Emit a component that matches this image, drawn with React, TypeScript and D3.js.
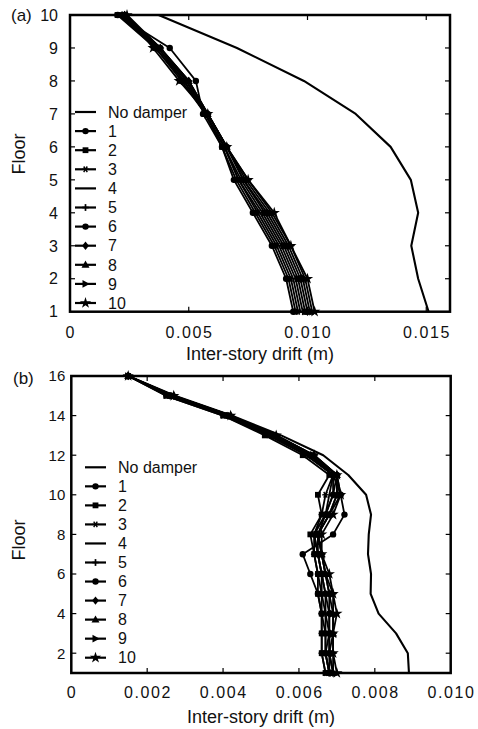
import React from 'react';
import * as d3 from 'd3';

const seriesNames = ['No damper', '1', '2', '3', '4', '5', '6', '7', '8', '9', '10'];
const markerTypes = ['none', 'circle', 'square', 'asterisk', 'none', 'plus', 'circle', 'diamond', 'triangle', 'triRight', 'star'];

// Panel (a): 10-storey building
const floorsA = [1, 2, 3, 4, 5, 6, 7, 8, 9, 10];
const noDamperA = [0.0151, 0.01466, 0.01437, 0.01466, 0.01435, 0.0135, 0.01203, 0.00985, 0.00703, 0.00373];
const dampersA = [
  [0.0094, 0.0091, 0.0085, 0.0077, 0.0069, 0.0064, 0.0056, 0.0053, 0.0042, 0.0020],
  [0.0095, 0.0092, 0.0086, 0.0078, 0.0070, 0.0064, 0.0057, 0.0047, 0.0036, 0.0020],
  [0.0096, 0.0093, 0.0087, 0.0079, 0.0071, 0.0065, 0.0057, 0.0048, 0.0036, 0.0021],
  [0.0097, 0.0094, 0.0088, 0.0080, 0.0071, 0.0065, 0.0057, 0.0048, 0.0037, 0.0021],
  [0.0098, 0.0095, 0.0089, 0.0081, 0.0072, 0.0065, 0.0057, 0.0049, 0.0037, 0.0022],
  [0.0099, 0.0096, 0.0090, 0.0082, 0.0073, 0.0066, 0.0058, 0.0049, 0.0038, 0.0022],
  [0.0100, 0.0097, 0.0091, 0.0083, 0.0073, 0.0066, 0.0058, 0.0050, 0.0038, 0.0023],
  [0.0101, 0.0098, 0.0092, 0.0084, 0.0074, 0.0066, 0.0058, 0.0050, 0.0038, 0.0023],
  [0.0102, 0.0099, 0.0093, 0.0085, 0.0075, 0.0066, 0.0058, 0.0050, 0.0038, 0.0024],
  [0.0103, 0.0100, 0.0093, 0.0086, 0.0075, 0.0066, 0.0058, 0.0046, 0.0035, 0.0024],
];
const xTicksA = [0, 0.005, 0.010, 0.015];
const yTicksA = [1, 2, 3, 4, 5, 6, 7, 8, 9, 10];

// Panel (b): 16-storey building
const floorsB = [1, 2, 3, 4, 5, 6, 7, 8, 9, 10, 11, 12, 13, 14, 15, 16];
const noDamperB = [0.0089, 0.00887, 0.00856, 0.0081, 0.00789, 0.0079, 0.00782, 0.00784, 0.0079, 0.00777, 0.0073, 0.00664, 0.00553, 0.00422, 0.00273, 0.0015];
const dampersB = [
  [0.0068, 0.0067, 0.0067, 0.0066, 0.0065, 0.0063, 0.0061, 0.0069, 0.0072, 0.0071, 0.0069, 0.0063, 0.0053, 0.0041, 0.0026, 0.0015],
  [0.0067, 0.0066, 0.0066, 0.0066, 0.0065, 0.0065, 0.0064, 0.0063, 0.0066, 0.0065, 0.0068, 0.0061, 0.0051, 0.0040, 0.0025, 0.0015],
  [0.0067, 0.0066, 0.0066, 0.0066, 0.0066, 0.0065, 0.0064, 0.0064, 0.0066, 0.0067, 0.0069, 0.0062, 0.0052, 0.0040, 0.0025, 0.0015],
  [0.0068, 0.0067, 0.0067, 0.0067, 0.0066, 0.0066, 0.0065, 0.0064, 0.0067, 0.0068, 0.0069, 0.0062, 0.0052, 0.0041, 0.0026, 0.0015],
  [0.0068, 0.0067, 0.0068, 0.0067, 0.0067, 0.0066, 0.0065, 0.0064, 0.0067, 0.0069, 0.0069, 0.0063, 0.0053, 0.0041, 0.0026, 0.0015],
  [0.0068, 0.0068, 0.0068, 0.0068, 0.0067, 0.0066, 0.0065, 0.0065, 0.0067, 0.0069, 0.0070, 0.0063, 0.0053, 0.0041, 0.0026, 0.0015],
  [0.0069, 0.0068, 0.0068, 0.0068, 0.0068, 0.0067, 0.0066, 0.0065, 0.0068, 0.0070, 0.0070, 0.0063, 0.0053, 0.0042, 0.0027, 0.0015],
  [0.0069, 0.0068, 0.0069, 0.0069, 0.0068, 0.0067, 0.0066, 0.0065, 0.0068, 0.0070, 0.0070, 0.0064, 0.0054, 0.0042, 0.0027, 0.0015],
  [0.0069, 0.0069, 0.0069, 0.0069, 0.0069, 0.0067, 0.0066, 0.0065, 0.0068, 0.0071, 0.0070, 0.0064, 0.0054, 0.0042, 0.0027, 0.0015],
  [0.0070, 0.0069, 0.0069, 0.0070, 0.0069, 0.0068, 0.0066, 0.0066, 0.0069, 0.0071, 0.0070, 0.0064, 0.0054, 0.0042, 0.0027, 0.0015],
];
const xTicksB = [0, 0.002, 0.004, 0.006, 0.008, 0.010];
const yTicksB = [2, 4, 6, 8, 10, 12, 14, 16];

const FONT = 'Liberation Sans, Arial, Helvetica, sans-serif';

function Marker({ type, x, y }: { type: string; x: number; y: number }) {
  const t = `translate(${x},${y})`;
  switch (type) {
    case 'circle':
      return <circle cx={x} cy={y} r={3.2} fill="#000" />;
    case 'square':
      return <rect x={x - 2.9} y={y - 2.9} width={5.8} height={5.8} fill="#000" />;
    case 'asterisk':
      return (
        <g transform={t} stroke="#000" strokeWidth={1.4}>
          <line x1={-3.2} y1={0} x2={3.2} y2={0} />
          <line x1={-1.8} y1={-2.8} x2={1.8} y2={2.8} />
          <line x1={-1.8} y1={2.8} x2={1.8} y2={-2.8} />
        </g>
      );
    case 'plus':
      return (
        <g transform={t} stroke="#000" strokeWidth={1.7}>
          <line x1={-3.2} y1={0} x2={3.2} y2={0} />
          <line x1={0} y1={-3.4} x2={0} y2={3.4} />
        </g>
      );
    case 'diamond':
      return <path transform={t} d="M0,-4.2L3.4,0L0,4.2L-3.4,0Z" fill="#000" />;
    case 'triangle':
      return <path transform={t} d="M0,-4.2L4,3L-4,3Z" fill="#000" />;
    case 'triRight':
      return <path transform={t} d="M4.2,0L-3,-3.8L-3,3.8Z" fill="#000" />;
    case 'star':
      return <path transform={t} d={d3.symbol(d3.symbolStar, 40)() || ''} fill="#000" />;
    default:
      return null;
  }
}

type PanelProps = {
  left: number; right: number; top: number; bottom: number;
  xMax: number; yMin: number; yMax: number;
  xTicks: number[]; yTicks: number[];
  floors: number[]; noDamper: number[]; dampers: number[][];
  yTickFont: number; yTickGap: number;
  legendX: number; legendY: number; legendStep: number;
  tag: string; tagX: number; tagY: number;
  floorLabelY: number; xLabelY: number; xTickY: number;
};

function Panel(p: PanelProps) {
  const x = d3.scaleLinear().domain([0, p.xMax]).range([p.left, p.right]);
  const y = d3.scaleLinear().domain([p.yMin, p.yMax]).range([p.bottom, p.top]);
  const line = d3.line<[number, number]>().x((d) => x(d[0])).y((d) => y(d[1]));
  const pts = (vals: number[]) => vals.map((v, i) => [v, p.floors[i]] as [number, number]);
  const tickLen = 5;
  const fmt = (v: number) => (v === 0 ? '0' : d3.format('.3f')(v));
  const ls = 1.6;
  return (
    <g fontFamily={FONT}>
      <path d={line(pts(p.noDamper)) || ''} fill="none" stroke="#000" strokeWidth={2.1} strokeLinejoin="round" />
      {p.dampers.map((s, k) => (
        <g key={k}>
          <path d={line(pts(s)) || ''} fill="none" stroke="#000" strokeWidth={1.8} strokeLinejoin="round" />
          {pts(s).map((d, j) => (
            <Marker key={j} type={markerTypes[k + 1]} x={x(d[0])} y={y(d[1])} />
          ))}
        </g>
      ))}
      <g stroke="#000" strokeWidth={1.2}>
        {p.xTicks.filter((v) => v > 0 && v < p.xMax).map((v) => (
          <g key={'xt' + v}>
            <line x1={x(v)} x2={x(v)} y1={p.bottom} y2={p.bottom - tickLen} />
            <line x1={x(v)} x2={x(v)} y1={p.top} y2={p.top + tickLen} />
          </g>
        ))}
        {p.yTicks.filter((v) => v > p.yMin && v < p.yMax).map((v) => (
          <g key={'yt' + v}>
            <line x1={p.left} x2={p.left + tickLen} y1={y(v)} y2={y(v)} />
            <line x1={p.right} x2={p.right - tickLen} y1={y(v)} y2={y(v)} />
          </g>
        ))}
      </g>
      <rect x={p.left} y={p.top} width={p.right - p.left} height={p.bottom - p.top} fill="none" stroke="#000" strokeWidth={2.5} />
      {p.xTicks.map((v) => (
        <text key={'xl' + v} x={x(v) + ls / 2} y={p.xTickY} textAnchor="middle" fontSize={16} letterSpacing={ls} fill="#111">
          {fmt(v)}
        </text>
      ))}
      {p.yTicks.map((v) => (
        <text key={'yl' + v} x={p.left - p.yTickGap} y={y(v)} dy="0.36em" textAnchor="end" fontSize={p.yTickFont} fill="#111">
          {v}
        </text>
      ))}
      <text x={(p.left + p.right) / 2} y={p.xLabelY} textAnchor="middle" fontSize={18} fill="#111">
        Inter-story drift (m)
      </text>
      <text transform={`translate(25,${p.floorLabelY}) rotate(-90)`} textAnchor="middle" fontSize={18} fill="#111">
        Floor
      </text>
      <text x={p.tagX} y={p.tagY} fontSize={17} fill="#111">{p.tag}</text>
      {seriesNames.map((name, i) => {
        const ly = p.legendY + i * p.legendStep;
        return (
          <g key={'lg' + i}>
            <line x1={p.legendX} x2={p.legendX + 21} y1={ly} y2={ly} stroke="#000" strokeWidth={2.2} />
            <Marker type={markerTypes[i]} x={p.legendX + 10.5} y={ly} />
            <text x={p.legendX + 33} y={ly} dy="0.36em" fontSize={16} fill="#111">{name}</text>
          </g>
        );
      })}
    </g>
  );
}

export default function App() {
  return (
    <svg width={478} height={729} style={{ position: 'absolute', left: 0, top: 0, background: '#fff' }}>
      <rect width={478} height={729} fill="#fff" />
      <Panel
        left={70} right={450} top={15} bottom={311.7}
        xMax={0.016} yMin={1} yMax={10}
        xTicks={xTicksA} yTicks={yTicksA}
        floors={floorsA} noDamper={noDamperA} dampers={dampersA}
        yTickFont={16} yTickGap={12}
        legendX={75} legendY={112} legendStep={19.1}
        tag="(a)" tagX={11} tagY={21}
        floorLabelY={154} xLabelY={360} xTickY={338}
      />
      <Panel
        left={71.3} right={450.7} top={376} bottom={673}
        xMax={0.010} yMin={1} yMax={16}
        xTicks={xTicksB} yTicks={yTicksB}
        floors={floorsB} noDamper={noDamperB} dampers={dampersB}
        yTickFont={15} yTickGap={6}
        legendX={85} legendY={467.3} legendStep={19.04}
        tag="(b)" tagX={13} tagY={384}
        floorLabelY={540} xLabelY={723} xTickY={698}
      />
    </svg>
  );
}
